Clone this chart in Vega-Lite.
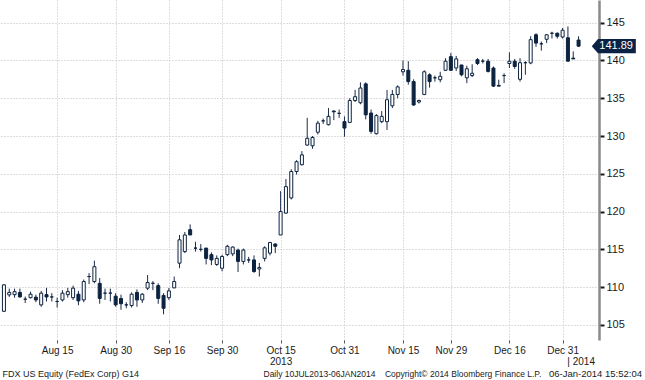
{
  "$schema": "https://vega.github.io/schema/vega-lite/v6.json",
  "width": 599,
  "height": 340,
  "autosize": {"type": "none"},
  "padding": {"left": 0, "top": 0, "right": 46, "bottom": 40},
  "background": "white",
  "config": {"view": {"stroke": null}, "font": "Liberation Sans"},
  "title": {
    "text": "06-Jan-2014 15:52:04",
    "orient": "bottom",
    "anchor": "end",
    "frame": "group",
    "dx": 43,
    "dy": -9,
    "offset": 0,
    "fontSize": 9.5,
    "fontWeight": "normal",
    "color": "#1a1a1a",
    "font": "Liberation Sans"
  },
  "data": {
    "values": [
      {"i": 16, "o": 106.8, "h": 110.4, "l": 106.7, "c": 110.3},
      {"i": 17, "o": 108.97, "h": 109.8, "l": 108.7, "c": 109.3},
      {"i": 18, "o": 109.0, "h": 109.8, "l": 108.6, "c": 109.4},
      {"i": 19, "o": 109.3, "h": 109.8, "l": 108.6, "c": 108.7},
      {"i": 20, "o": 108.4, "h": 108.75, "l": 107.9, "c": 108.4},
      {"i": 21, "o": 108.6, "h": 109.4, "l": 108.5, "c": 109.06},
      {"i": 22, "o": 108.67, "h": 109.0, "l": 108.0, "c": 108.3},
      {"i": 23, "o": 107.65, "h": 109.5, "l": 107.4, "c": 109.2},
      {"i": 24, "o": 109.0, "h": 109.9, "l": 108.1, "c": 108.7},
      {"i": 25, "o": 108.7, "h": 109.2, "l": 108.1, "c": 108.7},
      {"i": 26, "o": 108.1, "h": 108.6, "l": 107.3, "c": 108.1},
      {"i": 27, "o": 108.3, "h": 109.6, "l": 108.1, "c": 109.2},
      {"i": 28, "o": 109.0, "h": 109.9, "l": 108.6, "c": 109.4},
      {"i": 29, "o": 108.6, "h": 110.2, "l": 108.3, "c": 109.86},
      {"i": 30, "o": 109.06, "h": 109.5, "l": 107.6, "c": 108.18},
      {"i": 31, "o": 108.3, "h": 111.0, "l": 108.0, "c": 110.74},
      {"i": 32, "o": 111.4, "h": 111.85, "l": 110.4, "c": 111.4},
      {"i": 33, "o": 110.74, "h": 113.5, "l": 110.5, "c": 112.7},
      {"i": 34, "o": 110.5, "h": 111.2, "l": 107.8, "c": 108.5},
      {"i": 35, "o": 109.2, "h": 109.8, "l": 108.3, "c": 109.2},
      {"i": 36, "o": 109.2, "h": 109.8, "l": 108.1, "c": 109.2},
      {"i": 37, "o": 108.8, "h": 109.2, "l": 107.4, "c": 107.65},
      {"i": 38, "o": 108.5, "h": 109.0, "l": 107.0, "c": 107.8},
      {"i": 39, "o": 107.65, "h": 108.0, "l": 107.2, "c": 107.65},
      {"i": 40, "o": 107.56, "h": 109.3, "l": 107.3, "c": 109.06},
      {"i": 41, "o": 109.3, "h": 109.7, "l": 107.4, "c": 108.3},
      {"i": 42, "o": 108.3, "h": 109.2, "l": 107.9, "c": 109.06},
      {"i": 43, "o": 109.86, "h": 111.6, "l": 109.6, "c": 110.6},
      {"i": 44, "o": 110.5, "h": 110.8, "l": 109.6, "c": 110.5},
      {"i": 45, "o": 110.2, "h": 110.5, "l": 107.8, "c": 108.5},
      {"i": 46, "o": 108.9, "h": 109.2, "l": 106.4, "c": 107.2},
      {"i": 47, "o": 108.6, "h": 109.9, "l": 108.3, "c": 109.5},
      {"i": 48, "o": 109.9, "h": 111.4, "l": 109.86, "c": 110.74},
      {"i": 49, "o": 113.17, "h": 116.9, "l": 112.5, "c": 116.26},
      {"i": 50, "o": 114.7, "h": 117.3, "l": 114.5, "c": 116.9},
      {"i": 51, "o": 117.6, "h": 118.3, "l": 116.9, "c": 116.9},
      {"i": 52, "o": 115.16, "h": 116.0, "l": 114.7, "c": 115.16},
      {"i": 53, "o": 115.0, "h": 115.7, "l": 114.7, "c": 115.0},
      {"i": 54, "o": 115.16, "h": 115.2, "l": 113.0, "c": 113.8},
      {"i": 55, "o": 114.3, "h": 114.6, "l": 112.9, "c": 113.6},
      {"i": 56, "o": 113.0, "h": 114.2, "l": 112.8, "c": 113.8},
      {"i": 57, "o": 112.5, "h": 114.3, "l": 112.1, "c": 114.05},
      {"i": 58, "o": 114.3, "h": 115.6, "l": 114.1, "c": 115.4},
      {"i": 59, "o": 114.4, "h": 115.4, "l": 114.1, "c": 115.3},
      {"i": 60, "o": 114.9, "h": 115.1, "l": 112.0, "c": 113.4},
      {"i": 61, "o": 113.4, "h": 115.1, "l": 113.0, "c": 114.9},
      {"i": 62, "o": 113.6, "h": 114.0, "l": 113.2, "c": 113.6},
      {"i": 63, "o": 113.6, "h": 114.2, "l": 111.9, "c": 112.06},
      {"i": 64, "o": 112.4, "h": 113.2, "l": 111.4, "c": 112.6},
      {"i": 65, "o": 113.8, "h": 115.4, "l": 113.4, "c": 115.2},
      {"i": 66, "o": 114.5, "h": 116.0, "l": 114.2, "c": 115.9},
      {"i": 67, "o": 115.7, "h": 115.8, "l": 114.5, "c": 115.4},
      {"i": 68, "o": 116.9, "h": 122.7, "l": 116.9, "c": 120.0},
      {"i": 69, "o": 119.8, "h": 124.3, "l": 119.7, "c": 123.3},
      {"i": 70, "o": 121.8, "h": 125.6, "l": 121.6, "c": 125.3},
      {"i": 71, "o": 125.3, "h": 126.8, "l": 124.9, "c": 126.6},
      {"i": 72, "o": 126.2, "h": 128.0, "l": 126.1, "c": 127.5},
      {"i": 73, "o": 128.8, "h": 132.4, "l": 128.7, "c": 129.7},
      {"i": 74, "o": 128.7, "h": 130.0, "l": 128.3, "c": 129.8},
      {"i": 75, "o": 130.5, "h": 132.0, "l": 130.2, "c": 131.7},
      {"i": 76, "o": 132.0, "h": 132.3, "l": 131.6, "c": 132.0},
      {"i": 77, "o": 131.5, "h": 133.7, "l": 131.4, "c": 132.6},
      {"i": 78, "o": 133.3, "h": 133.4, "l": 132.1, "c": 133.2},
      {"i": 79, "o": 133.0, "h": 133.5, "l": 132.4, "c": 133.0},
      {"i": 80, "o": 131.9, "h": 132.6, "l": 129.9, "c": 131.05},
      {"i": 81, "o": 131.8, "h": 135.0, "l": 131.7, "c": 134.7},
      {"i": 82, "o": 134.7, "h": 136.1, "l": 134.5, "c": 135.2},
      {"i": 83, "o": 134.4, "h": 137.1, "l": 134.2, "c": 136.35},
      {"i": 84, "o": 136.9, "h": 137.1, "l": 132.2, "c": 132.8},
      {"i": 85, "o": 133.04, "h": 133.5, "l": 130.3, "c": 130.6},
      {"i": 86, "o": 130.3, "h": 132.9, "l": 130.2, "c": 132.7},
      {"i": 87, "o": 131.9, "h": 133.3, "l": 131.7, "c": 132.6},
      {"i": 88, "o": 131.9, "h": 136.1, "l": 130.8, "c": 134.8},
      {"i": 89, "o": 134.0, "h": 136.1, "l": 133.7, "c": 135.5},
      {"i": 90, "o": 135.5, "h": 136.7, "l": 135.0, "c": 136.5},
      {"i": 91, "o": 138.5, "h": 140.0, "l": 138.0, "c": 138.8},
      {"i": 92, "o": 138.7, "h": 139.9, "l": 136.8, "c": 137.2},
      {"i": 93, "o": 137.2, "h": 137.5, "l": 134.0, "c": 134.1},
      {"i": 94, "o": 134.5, "h": 134.8, "l": 134.3, "c": 134.7},
      {"i": 95, "o": 135.5, "h": 138.7, "l": 135.4, "c": 138.5},
      {"i": 96, "o": 138.1, "h": 138.3, "l": 136.4, "c": 137.2},
      {"i": 97, "o": 137.7, "h": 138.0, "l": 137.2, "c": 137.7},
      {"i": 98, "o": 137.45, "h": 138.5, "l": 137.1, "c": 137.9},
      {"i": 99, "o": 138.7, "h": 140.3, "l": 138.6, "c": 139.9},
      {"i": 100, "o": 140.5, "h": 141.0, "l": 138.6, "c": 138.7},
      {"i": 101, "o": 139.0, "h": 140.6, "l": 138.6, "c": 140.2},
      {"i": 102, "o": 139.4, "h": 139.4, "l": 137.9, "c": 138.1},
      {"i": 103, "o": 137.7, "h": 139.3, "l": 137.0, "c": 138.9},
      {"i": 104, "o": 138.0, "h": 139.5, "l": 137.8, "c": 138.3},
      {"i": 105, "o": 140.1, "h": 140.3, "l": 139.4, "c": 139.6},
      {"i": 106, "o": 139.9, "h": 140.2, "l": 139.6, "c": 139.9},
      {"i": 107, "o": 139.9, "h": 140.2, "l": 138.4, "c": 138.55},
      {"i": 108, "o": 139.0, "h": 139.2, "l": 136.5, "c": 136.6},
      {"i": 109, "o": 136.7, "h": 137.45, "l": 136.6, "c": 136.6},
      {"i": 110, "o": 138.0, "h": 138.3, "l": 137.0, "c": 138.0},
      {"i": 111, "o": 139.6, "h": 141.07, "l": 139.0, "c": 139.9},
      {"i": 112, "o": 139.9, "h": 140.2, "l": 138.9, "c": 139.2},
      {"i": 113, "o": 137.5, "h": 140.3, "l": 137.2, "c": 139.7},
      {"i": 114, "o": 139.7, "h": 139.9, "l": 138.1, "c": 139.7},
      {"i": 115, "o": 139.66, "h": 143.2, "l": 139.5, "c": 142.75},
      {"i": 116, "o": 143.4, "h": 143.6, "l": 141.8, "c": 142.3},
      {"i": 117, "o": 142.2, "h": 142.5, "l": 141.3, "c": 142.2},
      {"i": 118, "o": 142.8, "h": 143.5, "l": 142.3, "c": 143.4},
      {"i": 119, "o": 143.6, "h": 143.8, "l": 142.9, "c": 143.6},
      {"i": 120, "o": 143.6, "h": 143.7, "l": 142.9, "c": 143.2},
      {"i": 121, "o": 143.1, "h": 144.3, "l": 142.9, "c": 144.0},
      {"i": 122, "o": 143.0, "h": 144.5, "l": 139.9, "c": 139.9},
      {"i": 123, "o": 140.3, "h": 141.2, "l": 140.2, "c": 140.2},
      {"i": 124, "o": 142.7, "h": 143.2, "l": 141.8, "c": 141.89}
    ]
  },
  "encoding": {
    "x": {
      "field": "i",
      "type": "quantitative",
      "scale": {"domain": [16.2, 126.9], "nice": false, "zero": false},
      "axis": {
        "values": [26, 37, 47, 57, 68, 80, 91, 100, 111, 121, 121.8],
        "labelExpr": "{'26':'Aug 15','37':'Aug 30','47':'Sep 16','57':'Sep 30','68':['Oct 15','2013'],'80':'Oct 31','91':'Nov 15','100':'Nov 29','111':'Dec 16','121':'Dec 31','121.8':['','| 2014']}[datum.value + '']",
        "labelAlign": {"condition": {"test": "datum.value == 121.8", "value": "left"}, "value": "center"},
        "labelFont": "Liberation Sans",
        "labelFontSize": 10,
        "labelColor": "#1a1a1a",
        "labelPadding": 2,
        "labelLineHeight": 11,
        "labelOverlap": false,
        "labelFlush": false,
        "domain": false,
        "ticks": true,
        "tickSize": 3,
        "tickColor": "#555555",
        "tickOpacity": {"condition": {"test": "datum.value == 121.8", "value": 0}, "value": 1},
        "grid": true,
        "gridColor": "#bdbdbd",
        "gridDash": [1, 2],
        "gridOpacity": {"condition": {"test": "datum.value == 121.8", "value": 0}, "value": 1},
        "title": "FDX US Equity (FedEx Corp) G14",
        "titleFont": "Liberation Sans",
        "titleFontSize": 9,
        "titleFontWeight": "normal",
        "titleColor": "#1a1a1a",
        "titleAnchor": "start",
        "titleAlign": "left",
        "titleX": 2,
        "titleY": 36,
        "titleBaseline": "alphabetic"
      }
    }
  },
  "layer": [
    {
      "mark": {"type": "rule", "color": "#1b2b48", "strokeWidth": 1},
      "encoding": {
        "y": {
          "field": "l",
          "type": "quantitative",
          "scale": {"domain": [103, 148], "nice": false, "zero": false},
          "axis": {
            "orient": "right",
            "values": [105, 107.5, 110, 112.5, 115, 117.5, 120, 122.5, 125, 127.5, 130, 132.5, 135, 137.5, 140, 142.5, 145, 147.5],
            "labelExpr": "datum.value % 5 == 0 ? format(datum.value, 'd') : ''",
            "labelFont": "Liberation Sans",
            "labelFontSize": 11,
            "labelColor": "#1a1a1a",
            "labelPadding": 2,
            "labelBaseline": "middle",
            "domain": true,
            "domainColor": "#8a8a8a",
            "domainWidth": 2.5,
            "ticks": true,
            "tickColor": "#1a1a1a",
            "tickWidth": 2,
            "tickSize": {"condition": {"test": "datum.value % 5 == 0", "value": 5}, "value": 3},
            "grid": true,
            "gridColor": "#bdbdbd",
            "gridDash": [1, 2],
            "gridOpacity": {"condition": {"test": "datum.value % 5 == 0", "value": 1}, "value": 0},
            "title": "Daily 10JUL2013-06JAN2014\u00a0\u00a0\u00a0 Copyright\u00a9 2014 Bloomberg Finance L.P.",
            "titleFont": "Liberation Sans",
            "titleFontSize": 8.5,
            "titleFontWeight": "normal",
            "titleColor": "#1a1a1a",
            "titleAngle": 0,
            "titleAlign": "left",
            "titleAnchor": "start",
            "titleBaseline": "alphabetic",
            "titleX": -336,
            "titleY": 376
          }
        },
        "y2": {"field": "h"}
      }
    },
    {
      "mark": {"type": "bar", "width": 3, "stroke": "#0c2340", "strokeWidth": 1},
      "encoding": {
        "y": {"field": "o", "type": "quantitative"},
        "y2": {"field": "c"},
        "fill": {"condition": {"test": "datum.c >= datum.o", "value": "white"}, "value": "#0c2340"}
      }
    },
    {
      "transform": [{"filter": "datum.i == 124"}],
      "mark": {
        "type": "point",
        "shape": "M-1,0L-0.72,-0.32L1,-0.32L1,0.32L-0.72,0.32Z",
        "filled": true,
        "fill": "#0b2244",
        "opacity": 1,
        "strokeWidth": 0,
        "size": 1936,
        "clip": false
      },
      "encoding": {
        "x": {"datum": 130.62, "type": "quantitative"},
        "y": {"field": "c", "type": "quantitative"}
      }
    },
    {
      "transform": [{"filter": "datum.i == 124"}],
      "mark": {
        "type": "text",
        "color": "white",
        "font": "Liberation Sans",
        "fontSize": 11,
        "align": "center",
        "baseline": "middle",
        "clip": false
      },
      "encoding": {
        "x": {"datum": 131.06, "type": "quantitative"},
        "y": {"field": "c", "type": "quantitative"},
        "text": {"field": "c", "type": "quantitative", "format": ".2f"}
      }
    }
  ]
}
